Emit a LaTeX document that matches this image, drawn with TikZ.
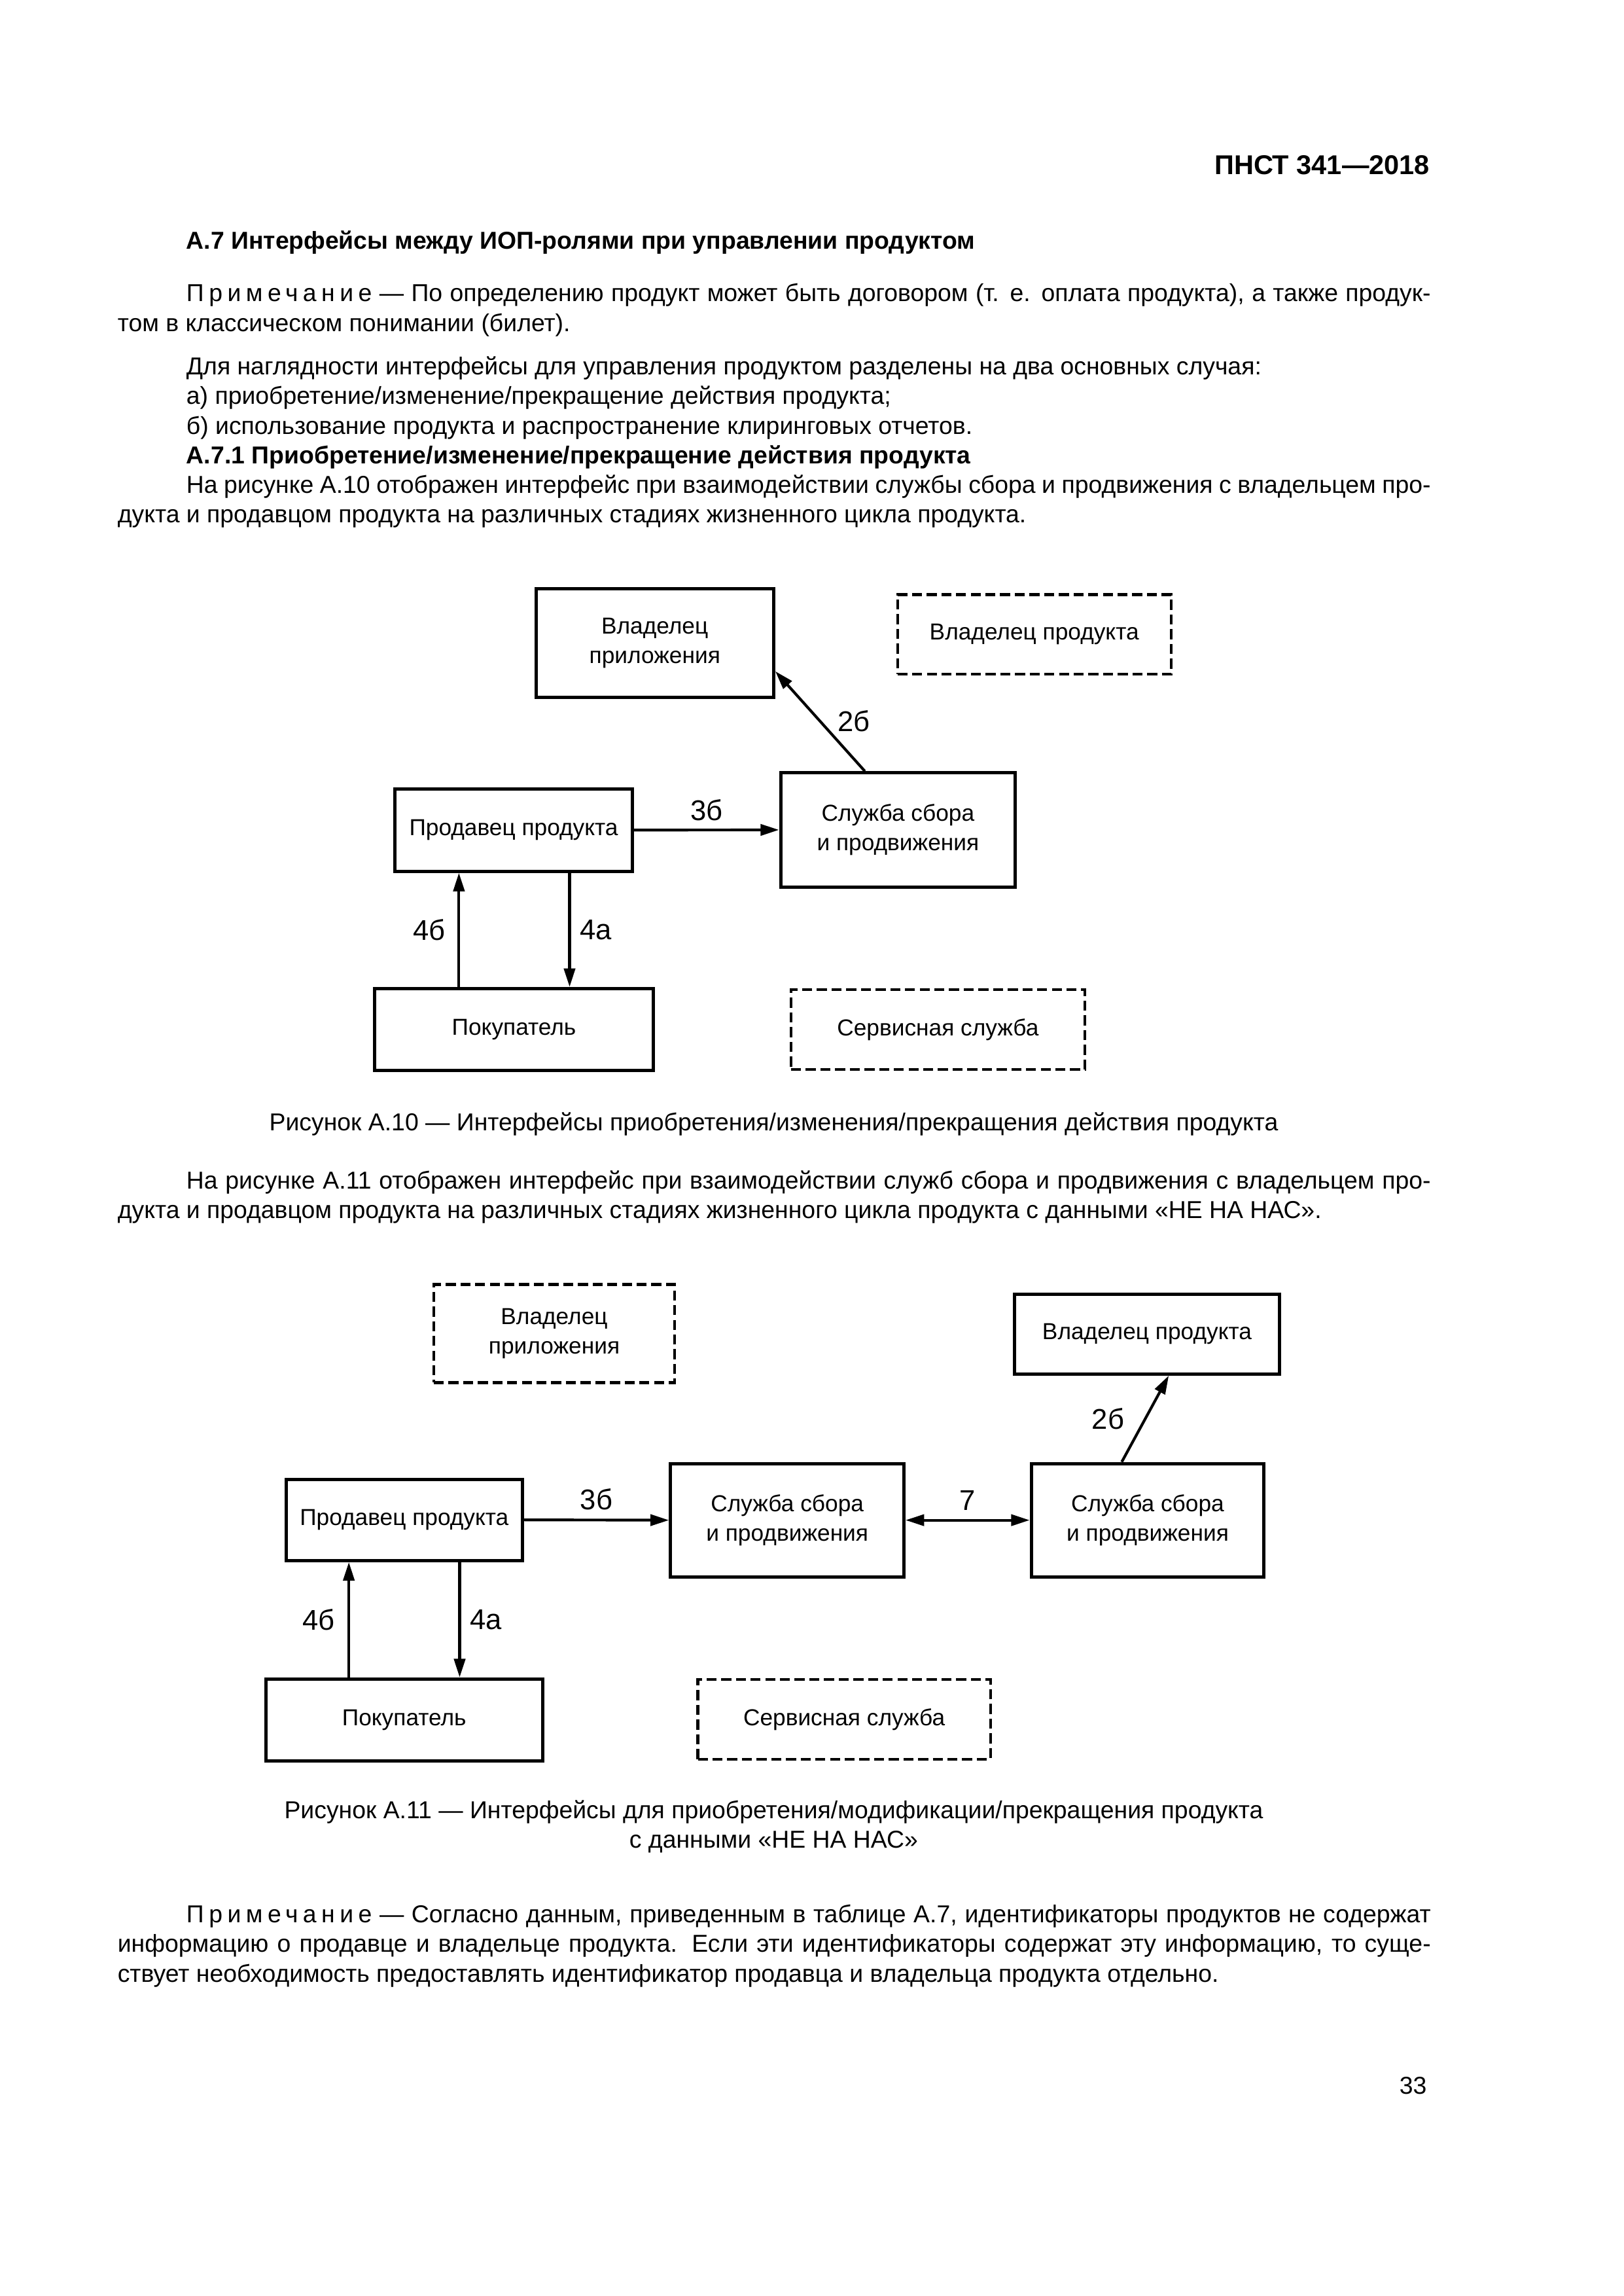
\documentclass[tikz,border=0pt]{standalone}
\usepackage{fontspec}
\setmainfont{Liberation Sans}
\usetikzlibrary{arrows.meta,positioning}
\setlength\parindent{0pt}
\newcommand\indnt{\hspace*{8.9mm}}
\newcommand\jline[1]{\makebox[\hsize][s]{#1}}
\newcommand\prim{{\addfontfeature{LetterSpace=20}Примечание}}

\tikzset{
  box/.style={draw,line width=1.2pt,align=center,inner sep=0pt,font=\fontsize{8.5}{10.8}\selectfont},
  dbox/.style={box,line width=1pt,dash pattern=on 1.3mm off 0.6mm},
  arr/.style={line width=1pt,-{Triangle[length=2.4mm,width=1.45mm]}},
  darr/.style={line width=1pt,{Triangle[length=2.4mm,width=1.45mm]}-{Triangle[length=2.4mm,width=1.45mm]}},
  lbl/.style={inner sep=0pt,font=\fontsize{10.5}{12}\selectfont},
  txt/.style={anchor=base west,inner sep=0pt,text width=169.9mm,align=justify},
  hd/.style={inner sep=0pt,font=\fontsize{9}{10.9}\selectfont\bfseries}
}

\begin{document}
\begin{tikzpicture}[x=0.18941mm,y=-0.18941mm,font=\fontsize{9}{10.9}\selectfont]
  \fill[white] (0,0) rectangle (1109,1568);
  \useasboundingbox (0,0) rectangle (1109,1568);
  % page text
  \node[hd,anchor=base east,font=\fontsize{10}{12}\selectfont\bfseries] (hdr) at (977,119) {ПНСТ 341—2018};
  \node[hd,anchor=base west] (secA7) at (127,170) {А.7 Интерфейсы между ИОП-ролями при управлении продуктом};
  \node[txt] (note1) at (80,206) {\jline{\indnt\prim\ — По определению продукт может быть договором (т. е. оплата продукта), а также продук-}\par
    том в классическом понимании (билет).};
  \node[txt] (cases) at (80,256) {\indnt Для наглядности интерфейсы для управления продуктом разделены на два основных случая:\par
    \indnt а) приобретение/изменение/прекращение действия продукта;\par
    \indnt б) использование продукта и распространение клиринговых отчетов.\par
    \indnt\textbf{А.7.1 Приобретение/изменение/прекращение действия продукта}\par
    \jline{\indnt На рисунке А.10 отображен интерфейс при взаимодействии службы сбора и продвижения с владельцем про-}\par
    дукта и продавцом продукта на различных стадиях жизненного цикла продукта.};

  % figure A.10
  \node[box,minimum width=30.76mm,minimum height=14.02mm] (app) at (447.3,439.2) {Владелец\\приложения};
  \node[dbox,minimum width=35.4mm,minimum height=10.27mm] (owner) at (706.55,433.2) {Владелец продукта};
  \node[box,minimum width=30.76mm,minimum height=10.64mm] (seller) at (350.9,566.9) {Продавец продукта};
  \node[box,minimum width=30.34mm,minimum height=14.76mm] (svc) at (613.4,566.75) {Служба сбора\\и продвижения};
  \node[box,minimum width=36.03mm,minimum height=10.61mm] (buyer) at (351.1,703.1) {Покупатель};
  \node[dbox,minimum width=38mm,minimum height=10.34mm] (srv) at (640.7,703.1) {Сервисная служба};
  \coordinate (c2s) at (590.8,0);
  \coordinate (c2e) at (0,458.4);
  \coordinate (c4b) at (313.5,0);
  \coordinate (c4a) at (389.1,0);
  \draw[arr] (svc.north -| c2s) -- node[lbl,right=2.14mm]{2б} (app.east |- c2e);
  \draw[arr] (seller.east) -- node[lbl,above=1mm]{3б} (svc.west);
  \draw[arr] (buyer.north -| c4b) -- node[lbl,left=1.58mm]{4б} (seller.south -| c4b);
  \draw[arr] (seller.south -| c4a) -- node[lbl,right=1.14mm]{4а} (buyer.north -| c4a);
  \node[anchor=base,inner sep=0pt] (cap10) at (528.5,772) {Рисунок А.10 — Интерфейсы приобретения/изменения/прекращения действия продукта};

  \node[txt] (intro11) at (80,812) {\jline{\indnt На рисунке А.11 отображен интерфейс при взаимодействии служб сбора и продвижения с владельцем про-}\par
    дукта и продавцом продукта на различных стадиях жизненного цикла продукта с данными «НЕ НА НАС».};

  % figure A.11
  \node[dbox,minimum width=31.18mm,minimum height=12.69mm] (app2) at (378.6,910.7) {Владелец\\приложения};
  \node[box,minimum width=34.34mm,minimum height=10.29mm] (owner2) at (783.55,911.15) {Владелец продукта};
  \node[box,minimum width=30.55mm,minimum height=10.51mm] (seller2) at (276.15,1037.95) {Продавец продукта};
  \node[box,minimum width=30.19mm,minimum height=14.64mm] (svcA) at (537.8,1038.15) {Служба сбора\\и продвижения};
  \node[box,minimum width=30.12mm,minimum height=14.64mm] (svcB) at (784,1038.15) {Служба сбора\\и продвижения};
  \node[box,minimum width=35.84mm,minimum height=10.59mm] (buyer2) at (276.1,1174.55) {Покупатель};
  \node[dbox,minimum width=37.86mm,minimum height=10.3mm] (srv2) at (576.65,1174.2) {Сервисная служба};
  \coordinate (d2s) at (766.3,0);
  \coordinate (d2e) at (798.4,0);
  \coordinate (d4b) at (238.3,0);
  \coordinate (d4a) at (314,0);
  \draw[arr] (seller2.east) -- node[lbl,above=1.1mm]{3б} (svcA.west);
  \draw[darr] (svcA.east) -- node[lbl,above=1.1mm]{7} (svcB.west);
  \draw[arr] (svcB.north -| d2s) -- node[lbl,left=2.55mm]{2б} (owner2.south -| d2e);
  \draw[arr] (buyer2.north -| d4b) -- node[lbl,left=1.65mm]{4б} (seller2.south -| d4b);
  \draw[arr] (seller2.south -| d4a) -- node[lbl,right=1.2mm]{4а} (buyer2.north -| d4a);
  \node[anchor=base,inner sep=0pt,align=center] (cap11) at (528.5,1262) {Рисунок А.11 — Интерфейсы для приобретения/модификации/прекращения продукта\\с данными «НЕ НА НАС»};

  \node[txt] (note2) at (80,1313) {\jline{\indnt\prim\ — Согласно данным, приведенным в таблице А.7, идентификаторы продуктов не содержат}\par
    \jline{информацию о продавце и владельце продукта. Если эти идентификаторы содержат эту информацию, то суще-}\par
    ствует необходимость предоставлять идентификатор продавца и владельца продукта отдельно.};
  \node[anchor=base east,inner sep=0pt] (pgno) at (975,1430) {33};
\end{tikzpicture}
\end{document}
